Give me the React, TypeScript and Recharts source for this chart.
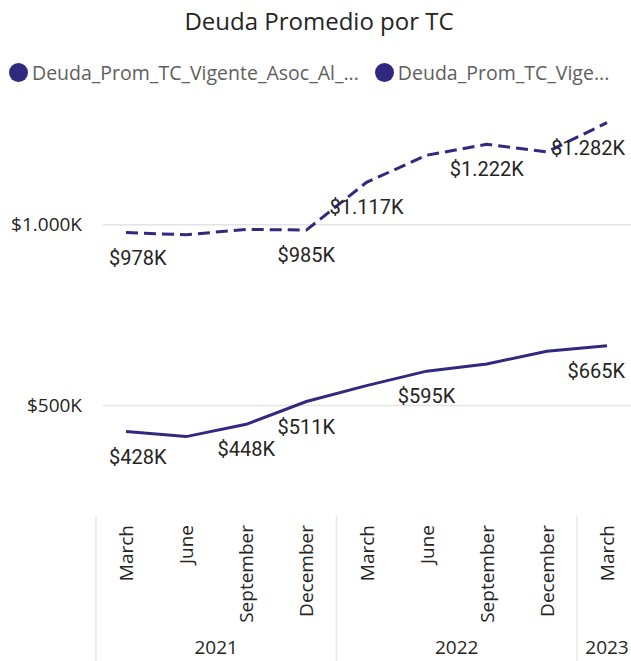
import React from "react";
import {
  CartesianGrid,
  LabelList,
  Line,
  LineChart,
  XAxis,
  YAxis,
} from "recharts";

// quarterly months, in thousands of $
const months = [
  "March",
  "June",
  "September",
  "December",
  "March",
  "June",
  "September",
  "December",
  "March",
];
const years = ["2021", "2021", "2021", "2021", "2022", "2022", "2022", "2022", "2023"];
const deudaAsoc = [978, 972, 987, 985, 1117, 1192, 1222, 1201, 1282];
const deudaVigente = [428, 414, 448, 511, 555, 595, 615, 650, 665];
const asocLabelIdx = [0, 3, 4, 6, 8];
const vigenteLabelIdx = [0, 2, 3, 5, 8];
const yTicks = [500, 1000];
const legendNames = ["Deuda_Prom_TC_Vigente_Asoc_Al_...", "Deuda_Prom_TC_Vige..."];

const COLOR = "#31287F";
const TEXT = "#252423";
const SEGOE = "'Segoe UI', 'Open Sans', sans-serif";

const CHART_W = 640;
const CHART_H = 661;
const Y_W = 96;
const PAD = 30;
const STEP = (CHART_W - 3 - Y_W - PAD * 2) / (months.length - 1);

const data = months.map((m, i) => ({
  period: `${m} ${years[i]}`,
  asoc: deudaAsoc[i],
  vigente: deudaVigente[i],
}));

const fmtK = (v: number) => {
  if (v >= 1000) {
    const th = Math.floor(v / 1000);
    return `$${th}.${String(v % 1000).padStart(3, "0")}K`;
  }
  return `$${v}K`;
};

const MonthTick = (props: any) => {
  const { x, y, index } = props;
  const firstOfYear = index === 0 || years[index] !== years[index - 1];
  let yearPart = null;
  if (firstOfYear) {
    const count = years.filter((yy) => yy === years[index]).length;
    const cx = x + ((count - 1) * STEP) / 2;
    yearPart = (
      <g>
        <line
          x1={x - STEP / 2}
          x2={x - STEP / 2}
          y1={y - 6}
          y2={CHART_H}
          stroke="#E8E8E8"
          strokeWidth={1.5}
        />
        <text
          x={cx}
          y={647}
          textAnchor="middle"
          dominantBaseline="central"
          fontFamily={SEGOE}
          fontSize={19}
          fill={TEXT}
        >
          {years[index]}
        </text>
      </g>
    );
  }
  const ty = y + 3;
  return (
    <g>
      {yearPart}
      <text
        x={x}
        y={ty}
        transform={`rotate(-90 ${x} ${ty})`}
        textAnchor="end"
        dominantBaseline="central"
        fontFamily={SEGOE}
        fontSize={19}
        fill={TEXT}
      >
        {months[index]}
      </text>
    </g>
  );
};

const makeLabel = (shown: number[]) => (props: any) => {
  const { x, y, value, index } = props;
  if (!shown.includes(index)) return null;
  let anchor: "start" | "middle" | "end" = "middle";
  let lx = x;
  if (index === 0) {
    anchor = "start";
    lx = x - 17;
  } else if (index === months.length - 1) {
    anchor = "end";
    lx = x + 18;
  }
  return (
    <text
      x={lx}
      y={y + 25}
      textAnchor={anchor}
      dominantBaseline="central"
      fontFamily="Roboto, sans-serif"
      fontSize={20}
      fill={TEXT}
    >
      {fmtK(value)}
    </text>
  );
};

const GridLine = (p: any) => {
  const top = p.y;
  const bottom = p.y + p.height;
  if (Math.abs(p.y1 - top) < 1 || Math.abs(p.y1 - bottom) < 1) return <g />;
  return (
    <line
      x1={p.x1 + 7}
      x2={p.x2}
      y1={p.y1}
      y2={p.y2}
      stroke="#E4E4E4"
      strokeWidth={1.5}
    />
  );
};

const App = () => {
  return (
    <div
      style={{
        position: "absolute",
        left: 0,
        top: 0,
        width: 631,
        height: 661,
        overflow: "hidden",
        background: "#fff",
      }}
    >
      <div
        style={{
          position: "absolute",
          top: 4,
          left: 0,
          width: 638,
          textAlign: "center",
          fontFamily: SEGOE,
          fontSize: 24,
          color: TEXT,
        }}
      >
        Deuda Promedio por TC
      </div>
      <div
        style={{
          position: "absolute",
          top: 59,
          left: 9,
          display: "flex",
          fontFamily: SEGOE,
          fontSize: 19.5,
          color: "#605E5C",
          whiteSpace: "nowrap",
        }}
      >
        {legendNames.map((n) => (
          <div key={n} style={{ display: "flex", alignItems: "center", marginRight: 16 }}>
            <span
              style={{
                width: 19,
                height: 19,
                borderRadius: "50%",
                background: COLOR,
                display: "inline-block",
                marginRight: 4,
              }}
            />
            <span>{n}</span>
          </div>
        ))}
      </div>
      <div style={{ position: "absolute", left: 0, top: 0 }}>
        <LineChart
          width={CHART_W}
          height={CHART_H}
          data={data}
          margin={{ top: 80, right: 3, bottom: 0, left: 0 }}
        >
          <CartesianGrid vertical={false} horizontal={GridLine} />
          <XAxis
            dataKey="period"
            padding={{ left: PAD, right: PAD }}
            height={147}
            axisLine={false}
            tickLine={false}
            interval={0}
            tick={MonthTick}
          />
          <YAxis
            width={Y_W}
            domain={[200, 1400]}
            ticks={yTicks}
            axisLine={false}
            tickLine={false}
            tickSize={0}
            tickMargin={14}
            tickFormatter={fmtK}
            tick={{ fontFamily: SEGOE, fontSize: 19, fill: TEXT }}
          />
          <Line
            dataKey="asoc"
            type="linear"
            stroke={COLOR}
            strokeWidth={3}
            strokeDasharray="12 6"
            dot={false}
            activeDot={false}
            isAnimationActive={false}
          >
            <LabelList dataKey="asoc" content={makeLabel(asocLabelIdx)} />
          </Line>
          <Line
            dataKey="vigente"
            type="linear"
            stroke={COLOR}
            strokeWidth={3}
            dot={false}
            activeDot={false}
            isAnimationActive={false}
          >
            <LabelList dataKey="vigente" content={makeLabel(vigenteLabelIdx)} />
          </Line>
        </LineChart>
      </div>
    </div>
  );
};

export default App;
